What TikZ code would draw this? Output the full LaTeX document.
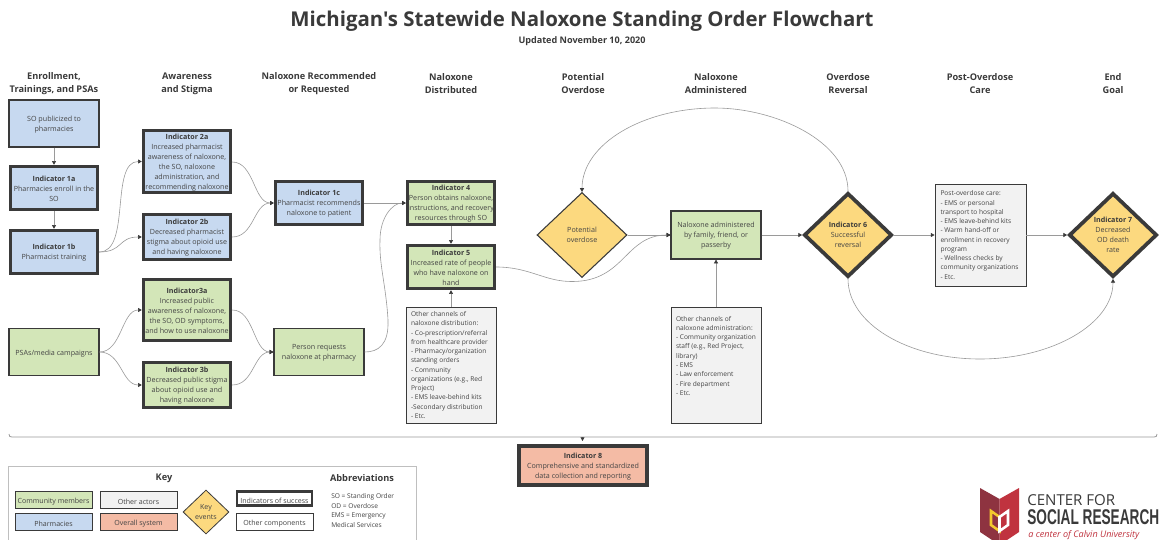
\documentclass[tikz,border=0pt]{standalone}
\usepackage{fontspec}
\setmainfont{Open Sans}
\newfontfamily\plainfont{Open Sans}
\newfontfamily\condfont[FakeStretch=0.64]{Liberation Sans}
\usetikzlibrary{arrows.meta,shapes.geometric}
\definecolor{cblue}{HTML}{C7D9F0}
\definecolor{cgreen}{HTML}{D3E6B8}
\definecolor{cyellow}{HTML}{FCD97F}
\definecolor{cred}{HTML}{F4BBA5}
\definecolor{cgray}{HTML}{F2F2F2}
\definecolor{cedge}{HTML}{3A3A3A}
\definecolor{ctext}{HTML}{444444}
\definecolor{cline}{HTML}{9A9A9A}
\definecolor{cmaroon}{HTML}{8E3340}
\definecolor{ccrimson}{HTML}{C0333F}
\definecolor{cgold}{HTML}{F3C92E}
\newcommand{\tp}{\rule{0pt}{5.4pt}}
\newcommand{\hd}[1]{\tp{\bfseries\color{cedge}#1}}
\newcommand{\hdd}[1]{{\bfseries\color{cedge}#1}}
\tikzset{
  body/.style={font=\fontsize{5.35}{7.5}\selectfont,text=ctext,align=center,inner sep=0pt,execute at begin node={\rule{0pt}{6.8pt}}},
  wh/.style 2 args={minimum width=#1*0.75pt,minimum height=#2*0.75pt},
  plainbox/.style={rectangle,body,draw=cedge,line width=0.9pt},
  indbox/.style={rectangle,body,draw=cedge,line width=2.6pt},
  leftbox/.style={rectangle,text=ctext,inner sep=0pt,draw=cedge,font=\fontsize{4.95}{6.95}\selectfont,align=flush left,text width=80*0.75pt,line width=0.7pt,fill=cgray},
  gem/.style={diamond,text=ctext,align=center,font=\fontsize{5.35}{7.5}\selectfont,draw=cedge,line width=0.8pt,fill=cyellow,inner sep=0pt,aspect=1.06,execute at begin node={\rule{0pt}{5.5pt}}},
  gemthick/.style={gem,line width=2.8pt},
  col/.style={font=\fontsize{6.9}{9.75}\selectfont\bfseries,text=cedge,align=center,inner sep=0pt},
  flow/.style={draw=cline,line width=0.45pt,-{Triangle[length=2.8pt,width=3pt,color=cedge]}},
  keytxt/.style={font=\fontsize{5.3}{7.1}\selectfont,text=ctext,inner sep=0pt},
}
\begin{document}
\begin{tikzpicture}[x=0.75pt,y=-0.75pt]
\useasboundingbox (0,0) rectangle (1159,539);
\fill[white] (0,0) rectangle (1159,539);
% title
\node[font=\plainfont\fontsize{15.3}{18}\selectfont\bfseries,text=cedge,inner sep=0pt] (title) at (582,21.5) {Michigan's Statewide Naloxone Standing Order Flowchart};
\node[font=\fontsize{6.8}{8}\selectfont\bfseries,text=cedge,inner sep=0pt] (updated) at (582,41) {Updated November 10, 2020};
% column heads
\node[col] (c1) at (54,83.5) {Enrollment,\\Trainings, and PSAs};
\node[col] (c2) at (187,83.5) {Awareness\\and Stigma};
\node[col] (c3) at (319,83.5) {Naloxone Recommended\\or Requested};
\node[col] (c4) at (451,83.5) {Naloxone\\Distributed};
\node[col] (c5) at (583,83.5) {Potential\\Overdose};
\node[col] (c6) at (716,83.5) {Naloxone\\Administered};
\node[col] (c7) at (848,83.5) {Overdose\\Reversal};
\node[col] (c8) at (980,83.5) {Post-Overdose\\Care};
\node[col] (c9) at (1113,83.5) {End\\Goal};
% boxes
\node[plainbox,fill=cblue,wh={90}{47}] (so) at (54,123.5) {\tp SO publicized to\\pharmacies};
\node[indbox,fill=cblue,wh={87}{43}] (i1a) at (54,188) {\hd{Indicator 1a}\\Pharmacies enroll in the\\SO};
\node[indbox,fill=cblue,wh={87}{43}] (i1b) at (54,252) {\hd{Indicator 1b}\\Pharmacist training};
\node[indbox,fill=cblue,wh={87}{62}] (i2a) at (187,161.5) {\hd{Indicator 2a}\\Increased pharmacist\\awareness of naloxone,\\the SO, naloxone\\administration, and\\recommending naloxone};
\node[indbox,fill=cblue,wh={87}{45}] (i2b) at (187,237) {\hd{Indicator 2b}\\Decreased pharmacist\\stigma about opioid use\\and having naloxone};
\node[indbox,fill=cblue,wh={87}{43}] (i1c) at (319,203) {\hd{Indicator 1c}\\Pharmacist recommends\\naloxone to patient};
\node[indbox,fill=cgreen,wh={87}{61}] (i3a) at (187,310) {\hd{Indicator3a}\\Increased public\\awareness of naloxone,\\the SO, OD symptoms,\\and how to use naloxone};
\node[indbox,fill=cgreen,wh={87}{45}] (i3b) at (187,385) {\hd{Indicator 3b}\\Decreased public stigma\\about opioid use and\\having naloxone};
\node[plainbox,fill=cgreen,wh={90}{47}] (psa) at (54,352) {PSAs/media campaigns};
\node[plainbox,fill=cgreen,wh={90}{47}] (req) at (319,352) {\tp Person requests\\naloxone at pharmacy};
\node[indbox,fill=cgreen,wh={87}{43}] (i4) at (451,203) {\hd{Indicator 4}\\Person obtains naloxone,\\instructions, and recovery\\resources through SO};
\node[indbox,fill=cgreen,wh={87}{43}] (i5) at (451,267) {\hd{Indicator 5}\\Increased rate of people\\who have naloxone on\\hand};
\node[leftbox,wh={90}{116}] (oth1) at (451,365) {Other channels of\\naloxone distribution:\\- Co-prescription/referral\\from healthcare provider\\- Pharmacy/organization\\standing orders\\- Community\\organizations (e.g., Red\\Project)\\- EMS leave-behind kits\\-Secondary distribution\\- Etc.};
\node[gem,wh={90}{85}] (pod) at (582,235) {Potential\\overdose};
\node[plainbox,fill=cgreen,wh={90}{48}] (adm) at (716,235) {\tp Naloxone administered\\by family, friend, or\\passerby};
\node[leftbox,wh={90}{116}] (oth2) at (716,365) {Other channels of\\naloxone administration:\\- Community organization\\staff (e.g., Red Project,\\library)\\- EMS\\- Law enforcement\\- Fire department\\- Etc.\\~\\~};
\node[gemthick,wh={88}{84}] (i6) at (848,235) {\hdd{Indicator 6}\\Successful\\reversal};
\node[leftbox,wh={91}{102}] (post) at (980.5,235) {Post-overdose care:\\- EMS or personal\\transport to hospital\\- EMS leave-behind kits\\- Warm hand-off or\\enrollment in recovery\\program\\- Wellness checks by\\community organizations\\- Etc.};
\node[gemthick,wh={88}{84}] (i7) at (1113,235) {\hdd{Indicator 7}\\Decreased\\OD death\\rate};
\node[indbox,fill=cred,wh={128}{39}] (i8) at (583,465.5) {\hd{Indicator 8}\\Comprehensive and standardized\\data collection and reporting};
% connectors
\path[flow] (so) -- (i1a);
\path[flow] (i1a) -- (i1b);
\path[flow] (i1b.east) .. controls +(32,0) and +(-32,0) .. (i2a.west);
\path[flow] (i1b.east) .. controls +(24,0) and +(-24,0) .. (i2b.west);
\path[flow] (i2a.east) ++(0,0.5) .. controls +(22,0) and +(-20,0) .. (i1c.west);
\path[flow] (i2b.east) .. controls +(22,0) and +(-20,0) .. (i1c.west);
\path[flow] (i1c.east) -- (i4.west);
\path[flow] (req.east) .. controls (378,352) and (389,345) .. (388,320) .. controls (386,285) and (379,265) .. (380,240) .. controls (380,218) and (392,203) .. (i4.west);
\path[flow] (psa.east) .. controls +(22,0) and +(-20,0) .. (i3a.west);
\path[flow] (psa.east) .. controls +(22,0) and +(-20,0) .. (i3b.west);
\path[flow] (i3a.east) .. controls +(22,0) and +(-20,0) .. (req.west);
\path[flow] (i3b.east) .. controls +(22,0) and +(-20,0) .. (req.west);
\path[flow] (i4) -- (i5);
\path[flow] (oth1) -- (i5);
\path[flow] (i5.east) .. controls (530,267) and (545,282) .. (573,281.5) .. controls (625,281) and (625,235) .. (adm.west);
\path[flow] (pod.east) -- (adm.west);
\path[flow] (oth2) -- (adm);
\path[flow] (adm.east) -- (i6.west);
\path[flow] (i6.north) .. controls +(0,-50) and +(60,0) .. (715,108) .. controls +(-72,0) and +(0,-48) .. (pod.north);
\path[flow] (i6.south) .. controls +(0,45) and +(-72,0) .. (980,359) .. controls +(72,0) and +(0,45) .. (i7.south);
\path[flow] (i6.east) -- (post.west);
\path[flow] (post.east) -- (i7.west);
% bracket
\coordinate (bl) at (9,434);
\coordinate (br) at (1157,434);
\coordinate (bc) at (582.5,437);
\coordinate (bt) at (582.5,441);
\draw[cline,line width=0.6pt] (bl) .. controls (9,436.5) and (10,437) .. (12,437) -- (1154,437) .. controls (1156,437) and (1157,436.5) .. (br);
\draw[flow] (bc) -- (bt);
% key
\node[draw=black!25,line width=0.6pt,minimum width=408*0.75pt,minimum height=85*0.75pt,inner sep=0pt] (keybox) at (212,509) {};
\node[font=\fontsize{6.9}{9}\selectfont\bfseries,text=cedge,inner sep=0pt] (keyt) at (164,478) {Key};
\node[font=\fontsize{6.9}{9}\selectfont\bfseries,text=cedge,inner sep=0pt] (abbr) at (362,478) {Abbreviations};
\node[plainbox,keytxt,line width=0.7pt,fill=cgreen,wh={77}{17}] (k1) at (53.5,499.5) {Community members};
\node[plainbox,keytxt,line width=0.7pt,fill=cgray,wh={77}{17}] (k2) at (138.5,499.5) {Other actors};
\node[plainbox,keytxt,line width=0.7pt,fill=cblue,wh={77}{17}] (k3) at (53.5,521.5) {Pharmacies};
\node[plainbox,keytxt,line width=0.7pt,fill=cred,wh={77}{17}] (k4) at (138.5,521.5) {Overall system};
\node[gem,keytxt,align=center,wh={46}{44},line width=0.6pt] (k5) at (206,512) {Key\\events};
\node[indbox,keytxt,fill=white,wh={75}{14},line width=2.2pt] (k6) at (274.5,498.5) {Indicators of success};
\node[plainbox,keytxt,fill=white,line width=0.7pt,wh={77}{17}] (k7) at (274.5,521.5) {Other components};
\node[keytxt,font=\fontsize{4.95}{7.1}\selectfont,align=left,anchor=north west] (abbrtxt) at (331,493.5) {SO = Standing Order\\OD = Overdose\\EMS = Emergency\\Medical Services};
% logo
\begin{scope}
\clip (0,0) rectangle (1159,539);
\fill[cmaroon] (980,488) -- (999.5,499) -- (999.5,545) -- (980,532) -- cycle;
\fill[ccrimson] (1019,488) -- (999.5,499) -- (999.5,545) -- (1019,532) -- cycle;
\draw[cgold,line width=1.9pt,line join=miter] (991,511) -- (999.5,517) -- (999.5,531) -- (991,525) -- cycle;
\draw[white,line width=1.9pt,line join=miter] (1008,511) -- (999.5,517) -- (999.5,531) -- (1008,525) -- cycle;
\end{scope}
\node[font=\fontsize{11.3}{12}\selectfont,text=cedge,inner sep=0pt,anchor=west] (lg1) at (1027,500.5) {CENTER FOR};
\node[font=\condfont\fontsize{16}{18}\selectfont\bfseries,text=cedge,inner sep=0pt,anchor=west] (lg2) at (1027,517) {SOCIAL RESEARCH};
\node[font=\rmfamily\fontsize{6.8}{9}\selectfont\itshape,text=ccrimson,inner sep=0pt,anchor=west] (lg3) at (1028,535) {a center of Calvin University};
\end{tikzpicture}
\end{document}
